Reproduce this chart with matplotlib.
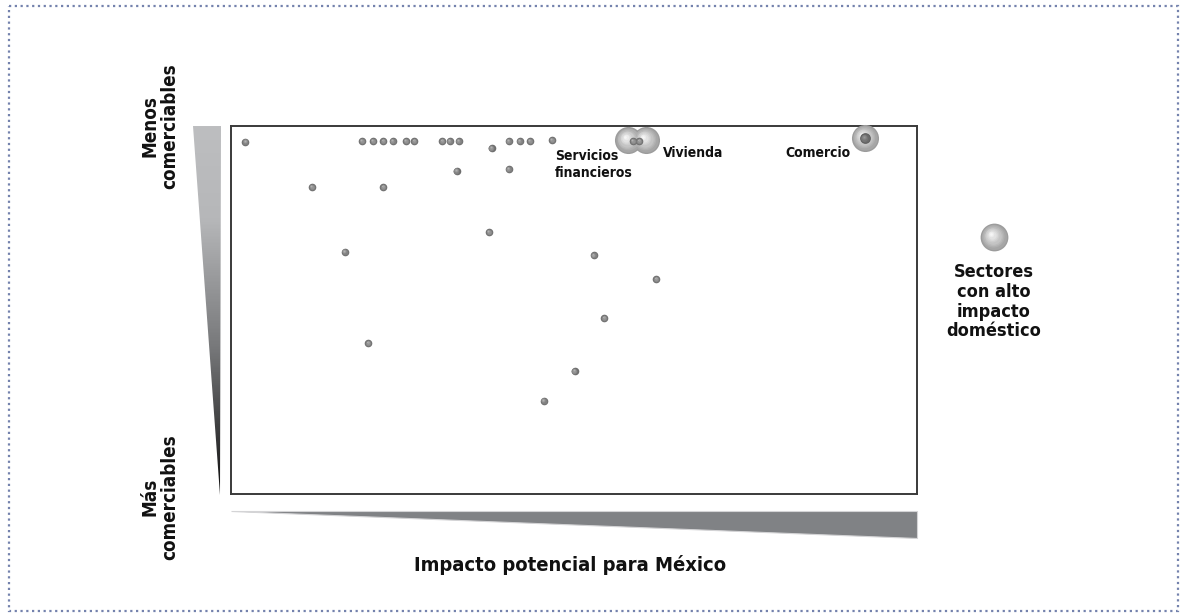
import matplotlib
matplotlib.use("Agg")
import matplotlib.pyplot as plt
import numpy as np
from matplotlib.patches import Polygon, Rectangle
from matplotlib.colors import LinearSegmentedColormap, to_rgb
from matplotlib.transforms import offset_copy

plt.rcParams['font.family'] = ['DejaVu Sans']
plt.rcParams['font.stretch'] = 'condensed'
plt.rcParams['font.weight'] = 'bold'

# sectores (impacto potencial 0-100, menos comerciables = 100)
dot_x = [2.1, 19.1, 20.7, 22.2, 23.6, 25.5, 26.7, 30.8, 31.9, 33.2, 38.0, 40.5, 42.1, 43.6, 46.8,
         32.9, 40.5, 11.8, 22.2, 16.6, 37.6, 52.9, 62.0, 54.4, 20.0, 50.1, 45.6, 58.6, 59.5]
dot_y = [95.7, 95.9, 95.9, 95.9, 95.9, 95.9, 95.9, 95.9, 95.9, 95.9, 94.0, 95.9, 95.9, 95.9, 96.2,
         87.8, 88.3, 83.4, 83.4, 65.8, 71.2, 64.9, 58.4, 47.8, 41.0, 33.4, 25.3, 95.9, 95.9]

# sectores con alto impacto domestico
hi_names = ["Servicios\nfinancieros", "Vivienda", "Comercio"]
hi_x = [57.9, 60.5, 92.4]
hi_y = [96.2, 96.2, 96.7]
label_x = [47.2, 63.0, 80.8]
label_y = [86.2, 91.6, 91.6]
comercio_x = [92.4]
comercio_y = [96.7]

W, H = 1180, 613
fig = plt.figure(figsize=(W / 100, H / 100), dpi=100)

# capa decorativa en pixeles
deco = fig.add_axes([0, 0, 1, 1])
deco.set_xlim(0, W)
deco.set_ylim(H, 0)
deco.axis('off')

ax = fig.add_axes([231 / W, (H - 494) / H, 686 / W, 368 / H])
ax.set_xlim(0, 100)
ax.set_ylim(0, 100)
ax.set_xticks([])
ax.set_yticks([])
for sp in ax.spines.values():
    sp.set_color('#3a3a3a')
    sp.set_linewidth(1.4)


def mix(c1, c2, f):
    a, b = np.array(to_rgb(c1)), np.array(to_rgb(c2))
    return tuple(a + (b - a) * f)


def sphere(a, x, y, s, base, light, z=3, n=10):
    r = np.sqrt(s) / 2
    for i in range(n):
        f = i / (n - 1)
        tr = offset_copy(a.transData, fig=fig, x=-0.22 * r * f, y=0.22 * r * f, units='points')
        a.scatter(x, y, s=s * (1 - 0.9 * f) ** 2, color=mix(base, light, f),
                  linewidths=0, transform=tr, zorder=z + i * 0.01, clip_on=False)


# bubbles
sphere(ax, hi_x, hi_y, 380, '#9c9c9c', '#f6f6f6', z=3)
# dots
sphere(ax, dot_x, dot_y, 30, '#6e6e6e', '#b8b8b8', z=5, n=5)
sphere(ax, comercio_x, comercio_y, 60, '#5e5e5e', '#9a9a9a', z=5, n=6)

for name, lx, ly in zip(hi_names, label_x, label_y):
    ax.text(lx, ly, name, fontsize=10, fontweight='bold', ha='left', va='baseline',
            linespacing=1.27, color='#111111', zorder=6)

# borde punteado
deco.add_patch(Rectangle((9, 6), 1169, 605, fill=False, ls=(0, (1, 1.6)), lw=1.6, ec='#7482ad'))

# cuna vertical
cm_v = LinearSegmentedColormap.from_list('v', [(0, '#bdbec0'), (0.25, '#b6b7b9'),
                                               (0.6, '#77787a'), (1, '#0e0e0e')])
poly_v = Polygon([(193, 126), (221, 126), (220, 495)], closed=True, fc='none', ec='none')
deco.add_patch(poly_v)
im = deco.imshow(np.linspace(0, 1, 200).reshape(-1, 1), cmap=cm_v, aspect='auto',
                 extent=(190, 224, 496, 126), origin='upper')
im.set_clip_path(poly_v)

# cuna horizontal
deco.add_patch(Polygon([(231, 511), (917, 511), (917, 538)], closed=True,
                       fc='#808285', ec='#d4d4d6', lw=0.8))
deco.set_xlim(0, W)
deco.set_ylim(H, 0)

deco.text(160, 126, "Menos\ncomerciables", rotation=90, fontsize=13.5, fontweight='bold',
          ha='center', va='center', multialignment='center', linespacing=1.1, color='#111111')
deco.text(160, 497, "Más\ncomerciables", rotation=90, fontsize=13.5, fontweight='bold',
          ha='center', va='center', multialignment='center', linespacing=1.1, color='#111111')
deco.text(570, 565, "Impacto potencial para México", fontsize=14.5, fontweight='bold',
          ha='center', va='center', color='#111111')

# leyenda
sphere(deco, [994], [237], 400, '#9c9c9c', '#f6f6f6', z=3)
deco.text(994, 263, "Sectores\ncon alto\nimpacto\ndoméstico", fontsize=13, fontweight='bold',
          ha='center', va='top', linespacing=1.13, color='#111111')

fig.savefig('out.png', dpi=100)
